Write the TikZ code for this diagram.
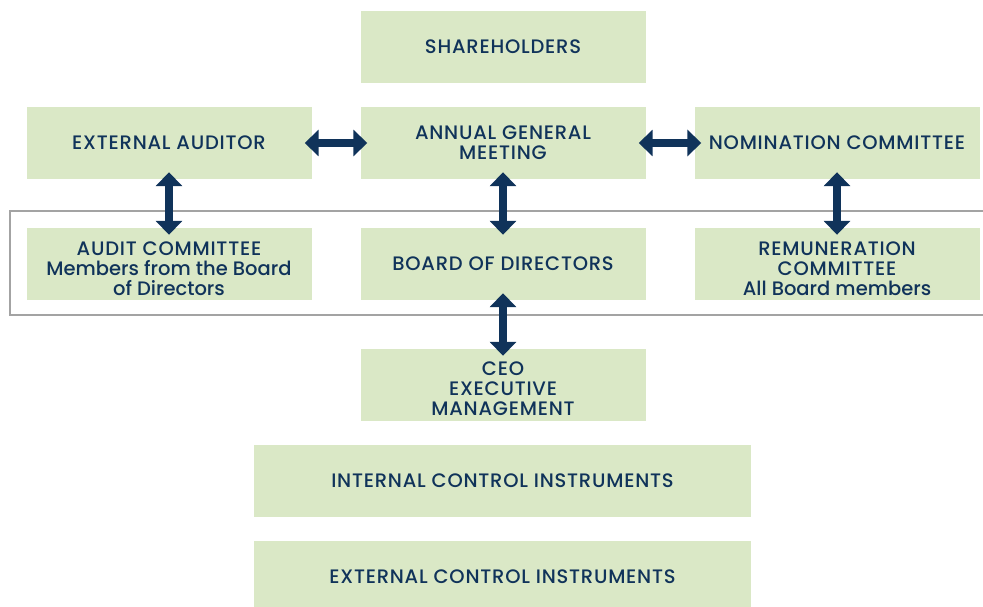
\documentclass[tikz,border=0pt]{standalone}
\usepackage{fontspec}
\setmainfont{Poppins Medium}[LetterSpace = 4]
\newfontfamily\plainfont{Poppins Medium}
\usetikzlibrary{arrows.meta}
\definecolor{boxgreen}{HTML}{DAE8C6}
\definecolor{navy}{HTML}{10335A}
\definecolor{framegray}{HTML}{A3A3A3}

\begin{document}
\begin{tikzpicture} [x = 1pt, y = -1pt,
  box/.style = {fill = boxgreen, text = navy, minimum width = 285pt, minimum height = 72pt,
    inner sep = 0pt, align = center, font = \fontsize{19.5}{20}\selectfont},
  wide/.style = {box, minimum width = 497pt},
  threeline/.style = {text height = #1, text depth = 3pt},
  threeline/.default = 65pt,
  link/.style = {{Triangle[width = 26pt, length = 14pt]}-{Triangle[width = 26pt, length = 14pt]},
    navy, line width = 8pt, shorten < = -7pt, shorten > = -7pt}]
\useasboundingbox (0,0) rectangle (983,607);
\draw [framegray, line width = 2pt] (10,211) rectangle (995,315);
\node[box] (sh) at (503,47) {SHAREHOLDERS};
\node[box] (ea) at (169,143) {EXTERNAL AUDITOR};
\node[box] (agm) at (503,143) {ANNUAL GENERAL\\MEETING};
\node[box] (nc) at (837,143) {NOMINATION COMMITTEE};
\node[box, threeline] (ac) at (169,264) {AUDIT COMMITTEE\\{\plainfont Members from the Board}\\{\plainfont of Directors}};
\node[box] (bd) at (503,264) {BOARD OF DIRECTORS};
\node[box, threeline] (rc) at (837,264) {REMUNERATION\\COMMITTEE\\{\plainfont All Board members}};
\node[box, threeline = 63pt] (ceo) at (503,385) {CEO\\EXECUTIVE\\MANAGEMENT};
\node[wide] (ici) at (502.5,481) {INTERNAL CONTROL INSTRUMENTS};
\node[wide] (eci) at (502.5,577) {EXTERNAL CONTROL INSTRUMENTS};
\draw [link] (ea) -- (agm);
\draw [link] (agm) -- (nc);
\draw [link] (ea) -- (ac);
\draw [link] (agm) -- (bd);
\draw [link] (nc) -- (rc);
\draw [link] (bd) -- (ceo);
\end{tikzpicture}
\end{document}
